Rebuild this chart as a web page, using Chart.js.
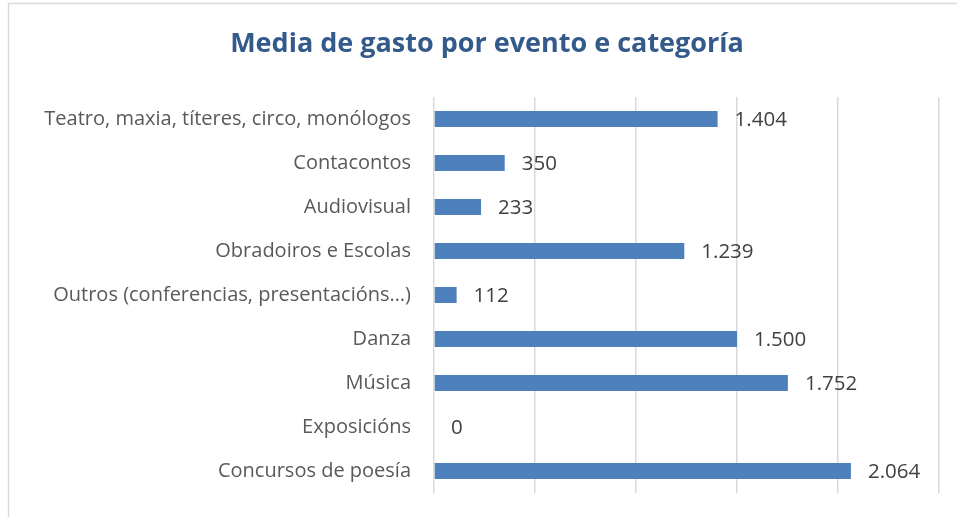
<!DOCTYPE html>
<html>
<head>
<meta charset="utf-8">
<script src="https://cdn.jsdelivr.net/npm/chart.js@4"></script>
<style>
  html, body { margin: 0; padding: 0; background: #fff; }
  #wrap { width: 957px; height: 517px; position: relative; }
</style>
</head>
<body>
<div id="wrap"><canvas id="c" width="957" height="517"></canvas></div>
<script>
const chartTitle = 'Media de gasto por evento e categoría';
const categories = [
  'Teatro, maxia, títeres, circo, monólogos',
  'Contacontos',
  'Audiovisual',
  'Obradoiros e Escolas',
  'Outros (conferencias, presentacións…)',
  'Danza',
  'Música',
  'Exposicións',
  'Concursos de poesía'
];
const values = [1404, 350, 233, 1239, 112, 1500, 1752, 0, 2064];
const axisMin = 0, axisMax = 2500, axisStep = 500;

const FONT = '"Open Sans", Lato, sans-serif';

const framePlugin = {
  id: 'frame',
  beforeDraw(chart) {
    const ctx = chart.ctx;
    ctx.save();
    ctx.fillStyle = '#fff';
    ctx.fillRect(0, 0, chart.width, chart.height);
    ctx.strokeStyle = '#d9d9d9';
    ctx.lineWidth = 1.5;
    ctx.strokeRect(8.5, 3.5, 1200, 1200);
    ctx.fillStyle = '#345a8a';
    ctx.font = 'bold 27px ' + FONT;
    ctx.textAlign = 'center';
    ctx.textBaseline = 'middle';
    ctx.fillText(chartTitle, 487, 44);
    ctx.restore();
  }
};

const labelPlugin = {
  id: 'vlabels',
  afterDatasetsDraw(chart) {
    const ctx = chart.ctx;
    const meta = chart.getDatasetMeta(0);
    ctx.save();
    ctx.fillStyle = '#404040';
    ctx.font = '20.5px ' + FONT;
    ctx.textAlign = 'left';
    ctx.textBaseline = 'middle';
    meta.data.forEach((bar, i) => {
      const txt = values[i].toLocaleString('de-DE');
      ctx.fillText(txt, bar.x + 17, bar.y + 1);
    });
    ctx.restore();
  }
};

new Chart(document.getElementById('c'), {
  type: 'bar',
  data: {
    labels: categories,
    datasets: [{
      data: values,
      backgroundColor: '#4e80bd',
      borderWidth: 0,
      inflateAmount: 0,
      barThickness: 16
    }]
  },
  options: {
    indexAxis: 'y',
    responsive: false,
    animation: false,
    layout: { padding: { left: 0, right: 18, top: 97, bottom: 24 } },
    plugins: { legend: { display: false }, title: { display: false }, tooltip: { enabled: false } },
    scales: {
      x: {
        min: axisMin, max: axisMax,
        ticks: { display: false, stepSize: axisStep },
        grid: { color: '#d9d9d9', lineWidth: 1.5, drawTicks: false },
        border: { display: false },
        afterFit(s) { s.height = 0; s.paddingLeft = 0; s.paddingRight = 0; }
      },
      y: {
        grid: { display: false, drawTicks: false },
        border: { display: false },
        ticks: { color: '#595959', font: { family: FONT, size: 20 }, padding: 23 },
        afterFit(s) { s.width = 434; s.paddingTop = 0; s.paddingBottom = 0; }
      }
    }
  },
  plugins: [framePlugin, labelPlugin]
});
</script>
</body>
</html>
